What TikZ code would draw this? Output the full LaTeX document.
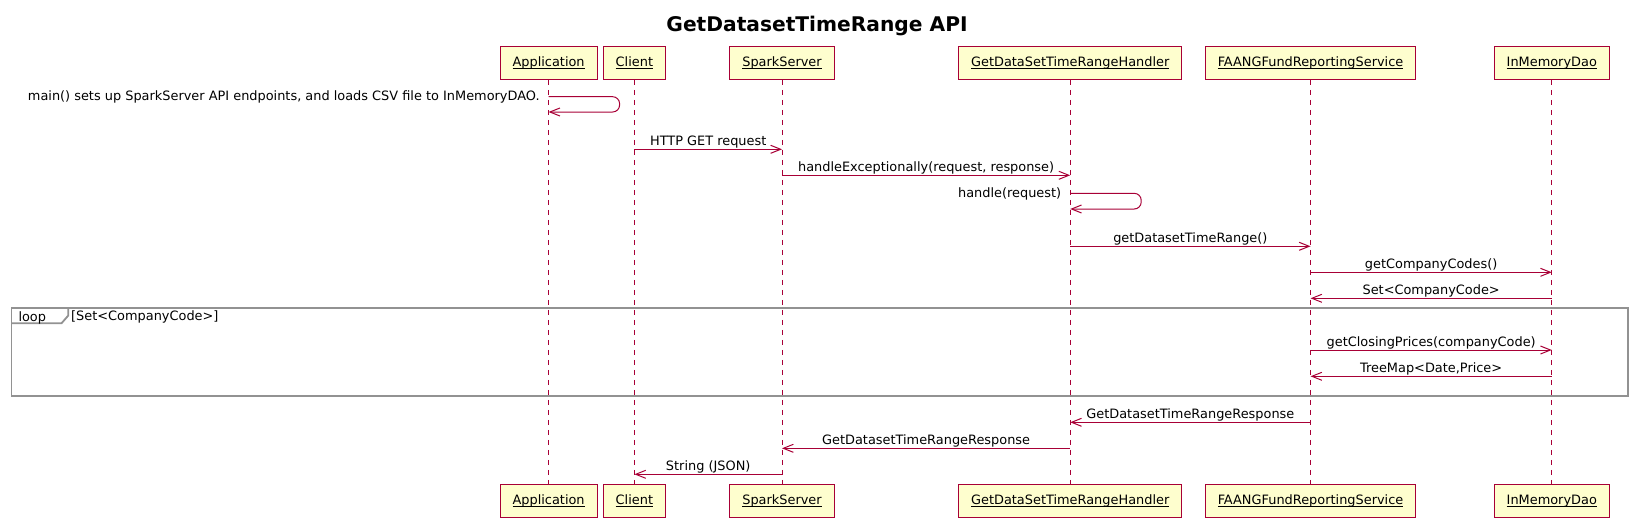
\documentclass[tikz,border=0pt]{standalone}
\usepackage{fontspec}
\setmainfont{DejaVu Sans}
\usetikzlibrary{arrows.meta}
\definecolor{umlred}{HTML}{A80036}
\definecolor{umlfill}{HTML}{FEFECE}
\definecolor{framegray}{HTML}{929292}
\newcommand{\lifename}[1]{$\underline{\smash{\hbox{#1}}}$}

\begin{document}
\begin{tikzpicture}[x=1pt,y=-1pt,
    part/.style={draw=umlred,fill=umlfill,line width=1pt,minimum height=33pt,inner xsep=12.5pt,inner ysep=0pt,text height=10.5pt,text depth=2.5pt,font=\msgfont},
    life/.style={umlred,line width=1pt,dash pattern=on 5pt off 5pt},
    msg/.style={umlred,line width=1pt,-{Straight Barb[length=10pt,width=8pt]}},
    lbl/.style={anchor=base,yshift=3.7pt,inner sep=0pt,text=black,font=\msgfont},
    selflbl/.style={anchor=base east,xshift=-8.5pt,yshift=-4pt,inner sep=0pt,text=black,font=\msgfont},
    frame/.style={draw=framegray,line width=1.8pt}]
    \providecommand{\msgfont}{\fontsize{12.9}{15}\selectfont}
    \providecommand{\titlefont}{\fontsize{20.2}{24}\selectfont\bfseries}
    \pgfmathsetmacro{\boxtopy}{62.8}
    \pgfmathsetmacro{\boxboty}{500.8}
    \pgfmathsetmacro{\selfwidth}{71}
    \useasboundingbox (0,0) rectangle (1637,525);
    % title
    \node[anchor=base,inner sep=0,font=\titlefont] (title) at (817,31) {GetDatasetTimeRange API};
    % participants, top and bottom
    \node[part] (app) at (548.6,\boxtopy) {\lifename{Application}};
    \node[part] (cli) at (634.4,\boxtopy) {\lifename{Client}};
    \node[part] (spk) at (782,\boxtopy) {\lifename{SparkServer}};
    \node[part] (hdl) at (1070.2,\boxtopy) {\lifename{GetDataSetTimeRangeHandler}};
    \node[part] (svc) at (1310.5,\boxtopy) {\lifename{FAANGFundReportingService}};
    \node[part] (dao) at (1551.8,\boxtopy) {\lifename{InMemoryDao}};
    \node[part] (app-b) at (548.6,\boxboty) {\lifename{Application}};
    \node[part] (cli-b) at (634.4,\boxboty) {\lifename{Client}};
    \node[part] (spk-b) at (782,\boxboty) {\lifename{SparkServer}};
    \node[part] (hdl-b) at (1070.2,\boxboty) {\lifename{GetDataSetTimeRangeHandler}};
    \node[part] (svc-b) at (1310.5,\boxboty) {\lifename{FAANGFundReportingService}};
    \node[part] (dao-b) at (1551.8,\boxboty) {\lifename{InMemoryDao}};
    % lifelines
    \draw[life] (app.south) -- (app-b.north);
    \draw[life] (cli.south) -- (cli-b.north);
    \draw[life] (spk.south) -- (spk-b.north);
    \draw[life] (hdl.south) -- (hdl-b.north);
    \draw[life] (svc.south) -- (svc-b.north);
    \draw[life] (dao.south) -- (dao-b.north);
    % message rows
    \coordinate (r0) at (0,96.7);
    \coordinate (r0b) at (0,112);
    \coordinate (r1) at (0,149.3);
    \coordinate (r2) at (0,175.3);
    \coordinate (r3) at (0,193.3);
    \coordinate (r3b) at (0,209);
    \coordinate (r4) at (0,246.3);
    \coordinate (r5) at (0,272.3);
    \coordinate (r6) at (0,298.3);
    \coordinate (r7) at (0,350);
    \coordinate (r8) at (0,376.3);
    \coordinate (r9) at (0,422.3);
    \coordinate (r10) at (0,448.3);
    \coordinate (r11) at (0,474.3);
    % loop frame
    \draw[frame] (11.5,308) rectangle (1627.7,396.3);
    \draw[frame] (68.3,308) -- (68.3,315.5) -- (61.5,323.3) -- (11.5,323.3);
    \node[anchor=base west,inner sep=0,font=\msgfont] (looplbl) at (18.3,321) {loop};
    \node[anchor=base west,inner sep=0,font=\msgfont] (loopcond) at (71,320.5) {[Set<CompanyCode>]};
    % messages
    \draw[msg,rounded corners=7pt] (app |- r0) node[selflbl] (t0) {main() sets up SparkServer API endpoints, and loads CSV file to InMemoryDAO.} -- ++(\selfwidth,0) -- ++(0,15.3) -- (app |- r0b);
    \draw[msg] (cli |- r1) -- node[lbl] (t1) {HTTP GET request} (spk |- r1);
    \draw[msg] (spk |- r2) -- node[lbl] (t2) {handleExceptionally(request, response)} (hdl |- r2);
    \draw[msg,rounded corners=7pt] (hdl |- r3) node[selflbl] (t3) {handle(request)} -- ++(\selfwidth,0) -- ++(0,15.7) -- (hdl |- r3b);
    \draw[msg] (hdl |- r4) -- node[lbl] (t4) {getDatasetTimeRange()} (svc |- r4);
    \draw[msg] (svc |- r5) -- node[lbl] (t5) {getCompanyCodes()} (dao |- r5);
    \draw[msg] (dao |- r6) -- node[lbl] (t6) {Set<CompanyCode>} (svc |- r6);
    \draw[msg] (svc |- r7) -- node[lbl] (t7) {getClosingPrices(companyCode)} (dao |- r7);
    \draw[msg] (dao |- r8) -- node[lbl] (t8) {TreeMap<Date,Price>} (svc |- r8);
    \draw[msg] (svc |- r9) -- node[lbl] (t9) {GetDatasetTimeRangeResponse} (hdl |- r9);
    \draw[msg] (hdl |- r10) -- node[lbl] (t10) {GetDatasetTimeRangeResponse} (spk |- r10);
    \draw[msg] (spk |- r11) -- node[lbl] (t11) {String (JSON)} (cli |- r11);
\end{tikzpicture}
\end{document}
